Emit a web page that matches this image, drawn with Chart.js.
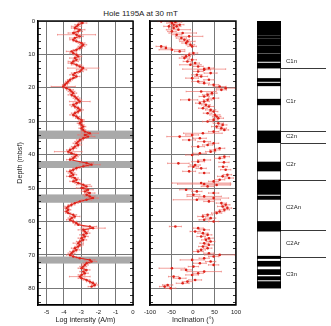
<!DOCTYPE html>
<html><head><meta charset="utf-8">
<script src="https://cdn.jsdelivr.net/npm/chart.js@4.4.0/dist/chart.umd.min.js"></script>
<style>
html,body{margin:0;padding:0;background:#fff;width:331px;height:326px;overflow:hidden}
canvas{position:absolute;top:0}
#title{position:absolute;left:0;top:8px;width:281px;text-align:center;font:8px "Liberation Sans",Arial,sans-serif;color:#222;line-height:11px}
</style></head><body>
<div id="title">Hole 1195A at 30 mT</div>
<canvas id="c1" width="140" height="326" style="left:0"></canvas>
<canvas id="c2" width="105" height="326" style="left:140px"></canvas>
<canvas id="c3" width="86" height="326" style="left:245px"></canvas>
<script>
// ---------- DATA ----------
const logDepth = [0.1,0.6,1.1,1.6,2.1,2.6,3.1,3.6,4.1,4.6,5.1,5.6,6.1,6.6,7.1,7.6,8.1,8.6,9.1,9.6,10.1,10.6,11.1,11.6,12.1,12.6,13.1,13.6,14.1,14.6,15.1,15.6,16.1,16.6,17.1,17.6,18.1,18.6,19.1,19.6,20.1,20.6,21.1,21.6,22.1,22.6,23.1,23.6,24.1,24.6,25.1,25.6,26.1,26.6,27.1,27.6,28.1,28.6,29.1,29.6,30.1,30.6,31.1,31.6,32.1,32.6,33.1,33.6,34.1,34.6,35.1,35.6,36.1,36.6,37.1,37.6,38.1,38.6,39.1,39.6,40.1,40.6,41.1,41.5,42.5,43.0,43.5,44.0,44.5,45.0,45.5,46.0,46.5,47.0,47.5,48.0,48.5,49.0,49.5,50.0,50.5,51.0,51.5,52.0,52.5,53.0,53.5,54.0,54.5,55.0,55.5,56.0,56.5,57.0,57.5,58.0,58.5,59.0,59.5,60.0,60.5,61.0,61.5,62.0,62.5,63.0,63.5,64.0,64.5,65.0,65.5,66.0,66.5,67.0,67.5,68.0,68.5,69.0,69.5,70.0,70.5,71.0,71.5,72.0,72.5,73.0,73.5,74.0,74.5,75.0,75.5,76.0,76.5,77.0,77.5,78.0,78.5,79.0,79.5];
const logIntensity = [-3.05,-2.92,-3.17,-3.27,-3.37,-3.08,-3.17,-3.46,-3.27,-3.08,-3.37,-3.46,-3.27,-2.98,-2.88,-2.98,-3.08,-3.27,-3.56,-3.46,-3.27,-3.17,-3.37,-3.27,-3.46,-3.56,-3.27,-3.08,-2.88,-2.98,-3.08,-3.37,-3.46,-3.27,-3.46,-3.65,-3.75,-3.85,-3.94,-4.04,-3.85,-3.65,-3.56,-3.46,-3.56,-3.37,-3.27,-3.17,-3.08,-3.27,-3.46,-3.37,-3.17,-3.08,-3.17,-3.37,-3.46,-3.27,-3.17,-2.98,-2.98,-3.08,-2.98,-2.88,-2.98,-2.88,-2.79,-2.50,-2.79,-2.60,-2.88,-3.08,-3.17,-3.27,-3.17,-3.37,-3.46,-3.65,-3.75,-3.56,-3.27,-3.37,-3.46,-3.65,-2.69,-2.40,-2.88,-3.27,-3.46,-3.65,-3.56,-3.46,-3.65,-3.37,-3.27,-3.46,-3.17,-2.88,-2.69,-2.98,-2.60,-2.79,-2.50,-2.69,-2.50,-2.31,-2.69,-3.08,-3.37,-3.56,-3.75,-3.85,-3.75,-3.85,-3.75,-3.46,-3.37,-3.56,-3.65,-3.46,-3.27,-3.17,-2.50,-2.31,-2.88,-2.79,-2.69,-2.88,-2.79,-2.98,-2.88,-3.08,-3.17,-3.08,-3.17,-3.37,-3.27,-3.46,-3.56,-3.65,-3.46,-3.08,-2.50,-2.40,-2.69,-2.79,-2.88,-2.98,-2.69,-2.88,-2.79,-2.98,-3.08,-2.98,-2.69,-2.50,-2.31,-2.21,-2.40];
const logError = [0.2,0.25,0.2,0.3,0.2,0.3,0.25,0.3,1.1,0.2,0.3,0.2,0.2,0.2,0.2,0.2,0.15,0.2,0.3,0.2,0.2,0.2,0.3,0.2,0.3,0.2,0.3,0.2,0.9,0.3,0.2,0.2,0.2,0.2,0.15,0.15,0.15,0.15,0.15,0.7,0.2,0.2,0.2,0.2,0.2,0.2,0.2,0.2,0.6,0.2,0.2,0.2,0.2,0.2,0.2,0.2,0.2,0.2,0.15,0.15,0.15,0.15,0.15,0.15,0.15,0.15,0.2,0.5,0.4,0.4,0.2,0.2,0.2,0.2,0.2,0.2,0.2,0.2,0.8,0.2,0.2,0.2,0.2,0.2,0.4,0.5,0.3,0.2,0.2,0.2,0.2,0.2,0.2,0.2,0.2,0.2,0.2,0.4,0.3,0.3,0.3,0.2,0.3,0.2,0.3,0.3,0.3,0.2,0.2,0.2,0.2,0.15,0.15,0.15,0.15,0.2,0.3,0.2,0.2,0.2,0.2,0.2,0.4,0.7,0.3,0.2,0.2,0.2,0.2,0.2,0.2,0.2,0.3,0.2,0.2,0.2,0.2,0.2,0.2,0.2,0.2,0.2,0.3,0.3,0.2,0.2,0.2,0.2,0.2,0.2,0.2,0.2,0.6,0.2,0.2,0.2,0.2,0.2,0.2];

const incDepth = [0.0,0.1,0.3,0.6,1.1,1.1,1.6,1.6,2.1,2.6,3.1,3.6,4.1,4.6,5.1,5.6,6.1,6.6,7.1,7.6,7.6,8.1,8.6,9.1,9.6,10.1,10.6,11.1,11.6,12.1,12.6,13.1,13.6,14.1,14.4,14.6,15.1,15.6,16.1,16.6,17.1,17.6,18.1,18.6,19.1,19.6,20.1,20.6,21.1,21.6,22.1,22.6,23.1,23.6,23.6,24.1,24.6,25.1,25.6,26.1,26.6,27.1,27.6,28.1,28.6,29.1,29.6,30.1,30.6,31.1,31.6,32.1,32.6,33.1,33.6,34.1,34.6,35.1,35.6,36.1,36.6,37.1,37.6,38.1,38.6,39.1,39.6,40.1,40.6,41.1,41.6,42.1,42.3,42.6,43.1,43.6,43.6,44.1,44.5,45.0,45.5,46.0,46.5,47.0,47.5,48.0,48.5,48.8,49.1,49.5,50.5,51.0,51.5,52.0,52.5,53.0,53.5,54.0,54.5,55.0,55.5,56.0,56.5,57.0,57.5,58.0,58.5,59.0,59.5,60.0,61.5,62.0,62.5,63.0,63.5,64.0,64.5,65.0,65.5,66.0,66.5,67.0,67.5,68.0,68.5,69.0,69.5,70.0,70.5,71.0,71.5,72.0,72.5,73.0,73.5,74.0,74.5,75.0,75.5,76.0,76.5,77.0,77.5,78.0,78.5,79.0,79.5,80.0];
const inclination = [-52,-74,-41,-49,-45,-31,-56,-38,-45,-34,-49,-24,-38,-9,-27,-20,-13,-16,-6,-74,-2,-63,-49,-31,1,-9,-16,-20,-2,-13,5,-6,12,37,26,26,12,41,9,19,-2,37,12,26,48,62,76,66,19,44,34,26,48,-9,34,26,16,30,37,23,41,48,34,51,55,59,48,34,59,69,55,66,73,48,23,-2,-31,16,-9,26,48,34,12,62,51,41,16,-2,73,62,26,12,72,-34,5,1,70,19,76,-9,26,80,69,84,62,48,19,26,55,34,-16,9,48,1,26,48,9,37,66,76,69,80,73,62,55,34,23,41,26,48,-41,12,26,5,23,34,19,37,30,41,26,37,23,34,19,12,37,62,48,26,-2,41,16,48,1,-49,-16,26,12,-2,-45,-31,5,-13,-24,-59,-66,-52];
const incError = [15,8,15,12,10,10,12,10,12,28,10,32,12,32,12,12,18,10,10,12,10,12,30,12,10,12,10,12,10,10,10,25,12,12,50,15,12,15,12,15,15,12,15,12,12,15,22,12,35,12,12,12,12,20,10,12,10,10,12,10,12,10,10,12,10,12,10,12,12,10,12,12,10,12,45,15,30,15,15,15,12,12,15,12,12,12,15,15,12,12,15,15,12,25,12,12,10,12,12,15,12,10,12,10,12,12,68,62,32,15,15,12,12,15,40,35,55,12,12,10,12,10,12,12,12,12,12,12,12,12,14,12,12,12,12,10,10,10,10,10,10,10,10,10,10,12,12,35,12,12,28,12,15,12,12,30,12,40,12,15,12,15,15,12,15,12,12,12];

const logTicks = [-5,-4,-3,-2,-1,0];
const incTicks = [-100,-50,0,50,100];
const depthTicks = [0,10,20,30,40,50,60,70,80];
const grayBands = [[32.8,35.3],[41.9,44.0],[51.9,54.4],[70.5,72.6]];

const normalIntervals = [[0,4.1],[4.35,5.0],[5.25,7.3],[7.55,9.6],[9.85,12.1],[12.6,14.1],[17.2,18.1],[18.6,19.4],[23.4,25.1],[32.9,36.4],[42.2,44.9],[47.6,51.9],[52.4,53.4],[60.0,62.9],[70.4,71.1],[71.9,73.4],[74.4,75.9],[76.5,77.5],[78.0,79.9]];
const columnRange = [0,80];
const chronNames = ['C1n','C1r','C2n','C2r','C2An','C2Ar','C3n'];
const chronLabelDepth = [12.2,24.0,34.4,43.0,55.7,66.6,75.8];
const chronBoundaries = [14.2,33.0,36.4,47.7,62.6,70.5];

// ---------- STYLE ----------
const F = "'Liberation Sans', Arial, sans-serif";
const RED = '#de2219';
const PINK = 'rgba(236,110,105,0.65)';
const GRID = '#777';
const TXT = '#222';

const bandPlugin = {
  id:'bands',
  beforeDatasetsDraw(chart, args, opts){
    if(!opts.list) return;
    const {ctx, chartArea:a, scales:{y}} = chart;
    ctx.save(); ctx.fillStyle = '#a9a9a9';
    opts.list.forEach(([t,b])=>{
      const y1 = y.getPixelForValue(t), y2 = y.getPixelForValue(b);
      ctx.fillRect(a.left+0.5, y1, a.right-a.left-1, y2-y1);
    });
    ctx.restore();
  }
};
const errorPlugin = {
  id:'errbars',
  beforeDatasetsDraw(chart){
    const {ctx, chartArea:a, scales:{x,y}} = chart;
    ctx.save();
    ctx.beginPath(); ctx.rect(a.left,a.top,a.right-a.left,a.bottom-a.top); ctx.clip();
    ctx.strokeStyle = PINK; ctx.lineWidth = 1;
    chart.data.datasets.forEach(ds=>{
      if(!ds.errors) return;
      ds.data.forEach((p,i)=>{
        const e = ds.errors[i];
        const x1 = x.getPixelForValue(p.x - e), x2 = x.getPixelForValue(p.x + e), py = y.getPixelForValue(p.y);
        ctx.beginPath(); ctx.moveTo(x1,py); ctx.lineTo(x2,py); ctx.stroke();
        ctx.beginPath(); ctx.moveTo(x1,py-0.8); ctx.lineTo(x1,py+0.8); ctx.moveTo(x2,py-0.8); ctx.lineTo(x2,py+0.8); ctx.stroke();
      });
    });
    ctx.restore();
  }
};
const framePlugin = {
  id:'frame',
  afterDatasetsDraw(chart){
    const {ctx, chartArea:a, scales:{y}} = chart;
    ctx.save();
    ctx.strokeStyle = '#000'; ctx.lineWidth = 0.8;
    for(let d=0; d<=84; d+=2){
      if(d%10===0) continue;
      const py = Math.round(y.getPixelForValue(d))+0.5;
      ctx.beginPath();
      ctx.moveTo(a.left,py); ctx.lineTo(a.left+3,py);
      ctx.moveTo(a.right,py); ctx.lineTo(a.right-3,py);
      ctx.stroke();
    }
    ctx.lineWidth = 1.4;
    ctx.strokeRect(a.left, a.top, a.right-a.left, a.bottom-a.top);
    ctx.restore();
  }
};

function xScale(min,max,ticks,title){
  return {
    type:'linear', min, max, position:'bottom',
    afterBuildTicks:s=>{ s.ticks = ticks.map(v=>({value:v})); },
    afterFit:s=>{ s.height = 21; },
    grid:{color:GRID, lineWidth:1, drawTicks:false},
    border:{color:'#000', width:1.3},
    ticks:{font:{size:6, family:F}, color:TXT, padding:4, maxRotation:0, autoSkip:false},
    title:{display:true, text:title, font:{size:7.2, family:F}, color:TXT, padding:{top:0,bottom:1.5}}
  };
}
function yScale(showLabels){
  return {
    type:'linear', min:0, max:85, reverse:true,
    afterBuildTicks:s=>{ s.ticks = depthTicks.map(v=>({value:v})); },
    afterFit:s=>{ s.width = showLabels ? 38 : 0; },
    grid:{color:GRID, lineWidth:1, drawTicks:false},
    border:{color:'#000', width:1.3},
    ticks:{display:showLabels, font:{size:6, family:F}, color:TXT, padding:3},
    title:{display:showLabels, text:'Depth (mbsf)', font:{size:7.2, family:F}, color:TXT, padding:{top:16,bottom:0}}
  };
}

new Chart(document.getElementById('c1'), {
  type:'scatter',
  data:{datasets:[{
    data: logDepth.map((d,i)=>({x:logIntensity[i], y:d})),
    errors: logError,
    showLine:true, borderColor:RED, borderWidth:1,
    pointRadius:1.2, pointBackgroundColor:RED, pointBorderWidth:0
  }]},
  options:{
    responsive:false, animation:false, devicePixelRatio:1,
    layout:{padding:{top:21,right:7,left:0,bottom:0}},
    plugins:{legend:{display:false}, tooltip:{enabled:false}, bands:{list:grayBands}},
    scales:{x:xScale(-5.5,0,logTicks,'Log intensity (A/m)'), y:yScale(true)}
  },
  plugins:[bandPlugin, errorPlugin, framePlugin]
});

new Chart(document.getElementById('c2'), {
  type:'scatter',
  data:{datasets:[{
    data: incDepth.map((d,i)=>({x:inclination[i], y:d})),
    errors: incError,
    showLine:false,
    pointRadius:1.3, pointBackgroundColor:RED, pointBorderWidth:0
  }]},
  options:{
    responsive:false, animation:false, devicePixelRatio:1,
    layout:{padding:{top:21,right:4,left:7,bottom:0}},
    plugins:{legend:{display:false}, tooltip:{enabled:false}},
    scales:{x:xScale(-100,100,incTicks,'Inclination (°)'), y:yScale(false)}
  },
  plugins:[errorPlugin, framePlugin]
});

const chronPlugin = {
  id:'chrons',
  afterDraw(chart){
    const {ctx, chartArea:a, scales:{y}} = chart;
    ctx.save();
    ctx.strokeStyle = '#222'; ctx.lineWidth = 0.9;
    chronBoundaries.forEach(d=>{
      const py = Math.round(y.getPixelForValue(d))+0.5;
      ctx.beginPath(); ctx.moveTo(a.right, py); ctx.lineTo(a.right+45, py); ctx.stroke();
    });
    ctx.fillStyle = TXT; ctx.font = "6px " + F; ctx.textBaseline = 'middle'; ctx.textAlign = 'left';
    chronNames.forEach((n,i)=>{ ctx.fillText(n, a.right+5, y.getPixelForValue(chronLabelDepth[i])); });
    ctx.restore();
  }
};

const polDatasets = [{
  data:[columnRange], backgroundColor:'#fff', borderColor:'#000', borderWidth:1,
  borderSkipped:false, grouped:false, barPercentage:1, categoryPercentage:1, order:2
}].concat(normalIntervals.map(iv=>({
  data:[iv], backgroundColor:'#000', borderWidth:0,
  grouped:false, barPercentage:1, categoryPercentage:1, order:1
})));

new Chart(document.getElementById('c3'), {
  type:'bar',
  data:{labels:['polarity'], datasets:polDatasets},
  options:{
    responsive:false, animation:false, devicePixelRatio:1,
    layout:{padding:{top:21,right:50,left:12,bottom:21}},
    plugins:{legend:{display:false}, tooltip:{enabled:false}},
    scales:{
      x:{type:'category', display:false},
      y:{type:'linear', min:0, max:85, reverse:true, display:false}
    }
  },
  plugins:[chronPlugin]
});
</script>
</body></html>
